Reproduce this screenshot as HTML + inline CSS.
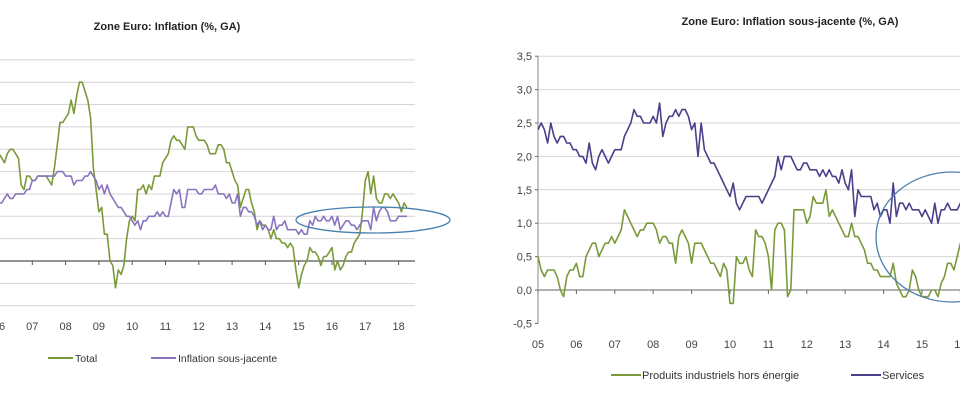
<!DOCTYPE html>
<html><head><meta charset="utf-8"><style>
body{margin:0;background:#fff;width:960px;height:400px;overflow:hidden;font-family:"Liberation Sans",sans-serif}
svg{position:absolute;left:0;top:0}
</style></head><body>
<svg id="c" width="960" height="400">
<text x="167" y="30" text-anchor="middle" font-size="11" font-weight="bold" fill="#222">Zone Euro: Inflation (%, GA)</text>
<text x="790" y="25" text-anchor="middle" font-size="11" font-weight="bold" fill="#222">Zone Euro: Inflation sous-jacente (%, GA)</text>
<g>
<line x1="48" y1="358" x2="73" y2="358" stroke="#7a9a3a" stroke-width="2"/>
<text x="75" y="362" font-size="10.5" fill="#333">Total</text>
<line x1="151" y1="358" x2="176" y2="358" stroke="#8a74c0" stroke-width="2"/>
<text x="178" y="362" font-size="10.5" fill="#333">Inflation sous-jacente</text>
</g>
<g>
<line x1="611" y1="375" x2="641" y2="375" stroke="#7a9a3a" stroke-width="2"/>
<text x="642" y="379" font-size="11" fill="#333">Produits industriels hors énergie</text>
<line x1="851" y1="375" x2="881" y2="375" stroke="#4a3f8a" stroke-width="2"/>
<text x="882" y="379" font-size="11" fill="#333">Services</text>
</g>
</svg>
<script>
// Left chart data (monthly from Jan 2006)
const leftYears = ["06","07","08","09","10","11","12","13","14","15","16","17","18"];
const totalInfl = [2.4,2.3,2.2,2.4,2.5,2.5,2.4,2.3,1.7,1.6,1.9,1.9,
1.8,1.8,1.9,1.9,1.9,1.9,1.8,1.7,2.1,2.6,3.1,3.1,
3.2,3.3,3.6,3.3,3.7,4.0,4.0,3.8,3.6,3.2,2.1,1.6,
1.1,1.2,0.6,0.6,0.0,-0.1,-0.6,-0.2,-0.3,-0.1,0.5,0.9,
1.0,0.9,1.6,1.6,1.7,1.5,1.7,1.6,1.9,1.9,1.9,2.2,
2.3,2.4,2.7,2.8,2.7,2.7,2.6,2.5,3.0,3.0,3.0,2.8,
2.7,2.7,2.7,2.6,2.4,2.4,2.4,2.6,2.6,2.5,2.2,2.2,
2.0,1.8,1.7,1.2,1.4,1.6,1.6,1.3,1.1,0.7,0.9,0.8,
0.8,0.7,0.5,0.7,0.5,0.5,0.4,0.4,0.3,0.4,0.3,-0.2,
-0.6,-0.3,-0.1,0.0,0.3,0.2,0.2,0.1,-0.1,0.1,0.1,0.2,
0.3,-0.2,0.0,-0.2,-0.1,0.1,0.2,0.2,0.4,0.5,0.6,1.1,
1.8,2.0,1.5,1.9,1.4,1.3,1.3,1.5,1.5,1.4,1.5,1.4,
1.3,1.1,1.3,1.2];
const coreInfl = [1.3,1.3,1.4,1.5,1.4,1.4,1.5,1.5,1.5,1.5,1.6,1.6,
1.8,1.8,1.9,1.9,1.9,1.9,1.9,1.9,1.9,2.0,2.0,2.0,
1.9,1.9,1.9,1.7,1.8,1.8,1.8,1.9,1.9,2.0,1.9,1.8,
1.6,1.7,1.5,1.7,1.5,1.4,1.3,1.2,1.2,1.1,1.0,1.0,
0.9,0.8,0.9,0.7,0.9,0.9,1.0,1.0,1.0,1.1,1.0,1.1,
1.0,1.0,1.3,1.6,1.5,1.6,1.2,1.2,1.6,1.6,1.6,1.6,
1.5,1.5,1.6,1.6,1.6,1.6,1.7,1.5,1.5,1.5,1.4,1.5,
1.3,1.3,1.5,1.0,1.2,1.2,1.1,1.1,1.0,0.8,0.9,0.7,
0.8,0.7,0.7,1.0,0.7,0.8,0.8,0.9,0.7,0.7,0.7,0.7,
0.6,0.7,0.6,0.6,0.9,0.8,1.0,0.9,0.9,1.0,0.9,0.9,
1.0,0.8,1.0,0.7,0.8,0.9,0.9,0.8,0.8,0.7,0.8,0.9,
0.9,0.9,0.7,1.2,0.9,1.1,1.2,1.2,1.1,0.9,0.9,0.9,
1.0,1.0,1.0,1.0];
const leftGridVals = [-1,-0.5,0,0.5,1,1.5,2,2.5,3,3.5,4,4.5];
// Right chart data (monthly from Jan 2005)
const rightYears = ["05","06","07","08","09","10","11","12","13","14","15","16"];
const rightTickLabels = ["3,5","3,0","2,5","2,0","1,5","1,0","0,5","0,0","-0,5"];
const rightTickVals = [3.5,3.0,2.5,2.0,1.5,1.0,0.5,0.0,-0.5];
const neig = [0.5,0.3,0.2,0.3,0.3,0.3,0.2,0.0,-0.1,0.2,0.3,0.3,
0.4,0.2,0.2,0.5,0.6,0.7,0.7,0.5,0.6,0.7,0.7,0.8,
0.7,0.8,0.9,1.2,1.1,1.0,0.9,0.8,0.9,0.9,1.0,1.0,
1.0,0.9,0.7,0.8,0.8,0.7,0.7,0.4,0.8,0.9,0.8,0.7,
0.4,0.7,0.7,0.7,0.6,0.5,0.4,0.4,0.3,0.2,0.4,0.3,
-0.2,-0.2,0.5,0.4,0.4,0.5,0.3,0.2,0.9,0.8,0.8,0.7,
0.5,0.0,0.9,1.0,1.0,0.9,-0.1,0.0,1.2,1.2,1.2,1.2,
1.0,1.1,1.4,1.3,1.3,1.3,1.5,1.1,1.2,1.1,1.0,0.9,
0.8,0.8,1.0,0.8,0.8,0.7,0.6,0.4,0.4,0.3,0.3,0.2,
0.2,0.2,0.2,0.4,0.1,0.0,-0.1,-0.1,0.0,0.3,0.2,0.0,
-0.1,-0.1,-0.1,0.0,0.0,-0.1,0.1,0.2,0.4,0.4,0.3,0.5,
0.7,0.7];
const services = [2.4,2.5,2.4,2.2,2.5,2.3,2.2,2.3,2.3,2.2,2.2,2.1,
2.1,2.0,2.0,1.9,2.2,1.9,1.8,2.0,2.1,2.0,1.9,2.0,
2.1,2.1,2.1,2.3,2.4,2.5,2.7,2.6,2.6,2.5,2.5,2.5,
2.6,2.5,2.8,2.3,2.5,2.6,2.6,2.7,2.6,2.7,2.7,2.6,
2.4,2.5,2.0,2.5,2.1,2.0,1.9,1.9,1.8,1.7,1.6,1.5,
1.4,1.6,1.3,1.2,1.3,1.4,1.4,1.4,1.4,1.4,1.3,1.4,
1.5,1.6,1.7,2.0,1.8,2.0,2.0,2.0,1.9,1.8,1.8,1.9,
1.9,1.8,1.8,1.8,1.7,1.8,1.7,1.8,1.7,1.7,1.6,1.8,
1.6,1.5,1.8,1.1,1.5,1.4,1.4,1.4,1.4,1.2,1.3,1.1,
1.2,1.2,1.0,1.6,1.1,1.3,1.3,1.2,1.3,1.2,1.2,1.2,
1.1,1.2,1.1,1.0,1.3,1.0,1.2,1.2,1.3,1.2,1.2,1.2,
1.3,1.1];

const NS="http://www.w3.org/2000/svg";
const svg=document.getElementById('c');
function mk(tag,attrs,parent){const e=document.createElementNS(NS,tag);for(const k in attrs)e.setAttribute(k,attrs[k]);(parent||svg).appendChild(e);return e;}

// Left axes
const lx = m => -1 + m*33.3/12;
const ly = v => 261 - v*44.7;
const lg = mk('g',{});


leftGridVals.forEach(v=>{
  const l=mk('line',{x1:0,x2:415,y1:ly(v),y2:ly(v),stroke:v===0?'#555':'#d4d4d4','stroke-width':v===0?1.2:1},lg);
  
  
});
leftYears.forEach((y,i)=>{
  const x=lx(i*12);
  const t=mk('line',{x1:x,x2:x,y1:261,y2:265,stroke:'#555'},lg);
  
  
  const tx=mk('text',{x:x,y:330,'text-anchor':'middle','font-size':11,fill:'#444'},lg);
  tx.textContent=y;
  
  
});
function poly(arr,fx,fy,color,w,parent,name){
  const p=mk('polyline',{points:arr.map((v,i)=>fx(i).toFixed(1)+','+fy(v).toFixed(1)).join(' '),fill:'none',stroke:color,'stroke-width':w,'stroke-linejoin':'round'},parent);
  
  
}
poly(totalInfl,lx,ly,'#7a9a3a',1.6,lg,'total-line');
poly(coreInfl,lx,ly,'#8a74c0',1.6,lg,'core-line');
const e1=mk('ellipse',{cx:373,cy:220,rx:77,ry:13,fill:'none',stroke:'#4a7fb0','stroke-width':1.3},lg);



// Right axes
const rx = m => 538 + m*38.4/12;
const ry = v => 290 - v*66.8;
const rg = mk('g',{});


rightTickVals.forEach((v,i)=>{
  if(v!==0&&v!==-0.5){
    const l=mk('line',{x1:538,x2:960,y1:ry(v),y2:ry(v),stroke:'#d4d4d4'},rg);
    
    
  }
  const t=mk('line',{x1:535,x2:538,y1:ry(v),y2:ry(v),stroke:'#666'},rg);
  
  
  const tx=mk('text',{x:532,y:ry(v)+4,'text-anchor':'end','font-size':11,fill:'#444'},rg);
  tx.textContent=rightTickLabels[i];
  
  
});
const za=mk('line',{x1:538,x2:960,y1:ry(0),y2:ry(0),stroke:'#666'},rg);


const ya=mk('line',{x1:538,x2:538,y1:ry(3.5),y2:ry(-0.5),stroke:'#888'},rg);


rightYears.forEach((y,i)=>{
  const x=rx(i*12);
  const t=mk('line',{x1:x,x2:x,y1:ry(0),y2:ry(0)+4,stroke:'#666'},rg);
  
  
  const tx=mk('text',{x:x,y:348,'text-anchor':'middle','font-size':11,fill:'#444'},rg);
  tx.textContent=y;
  
  
});
poly(neig,rx,ry,'#7a9a3a',1.6,rg,'neig-line');
poly(services,rx,ry,'#4a3f8a',1.6,rg,'services-line');
const e2=mk('ellipse',{cx:952,cy:237,rx:76,ry:65,fill:'none',stroke:'#4a7fb0','stroke-width':1.3},rg);


</script>
</body></html>
